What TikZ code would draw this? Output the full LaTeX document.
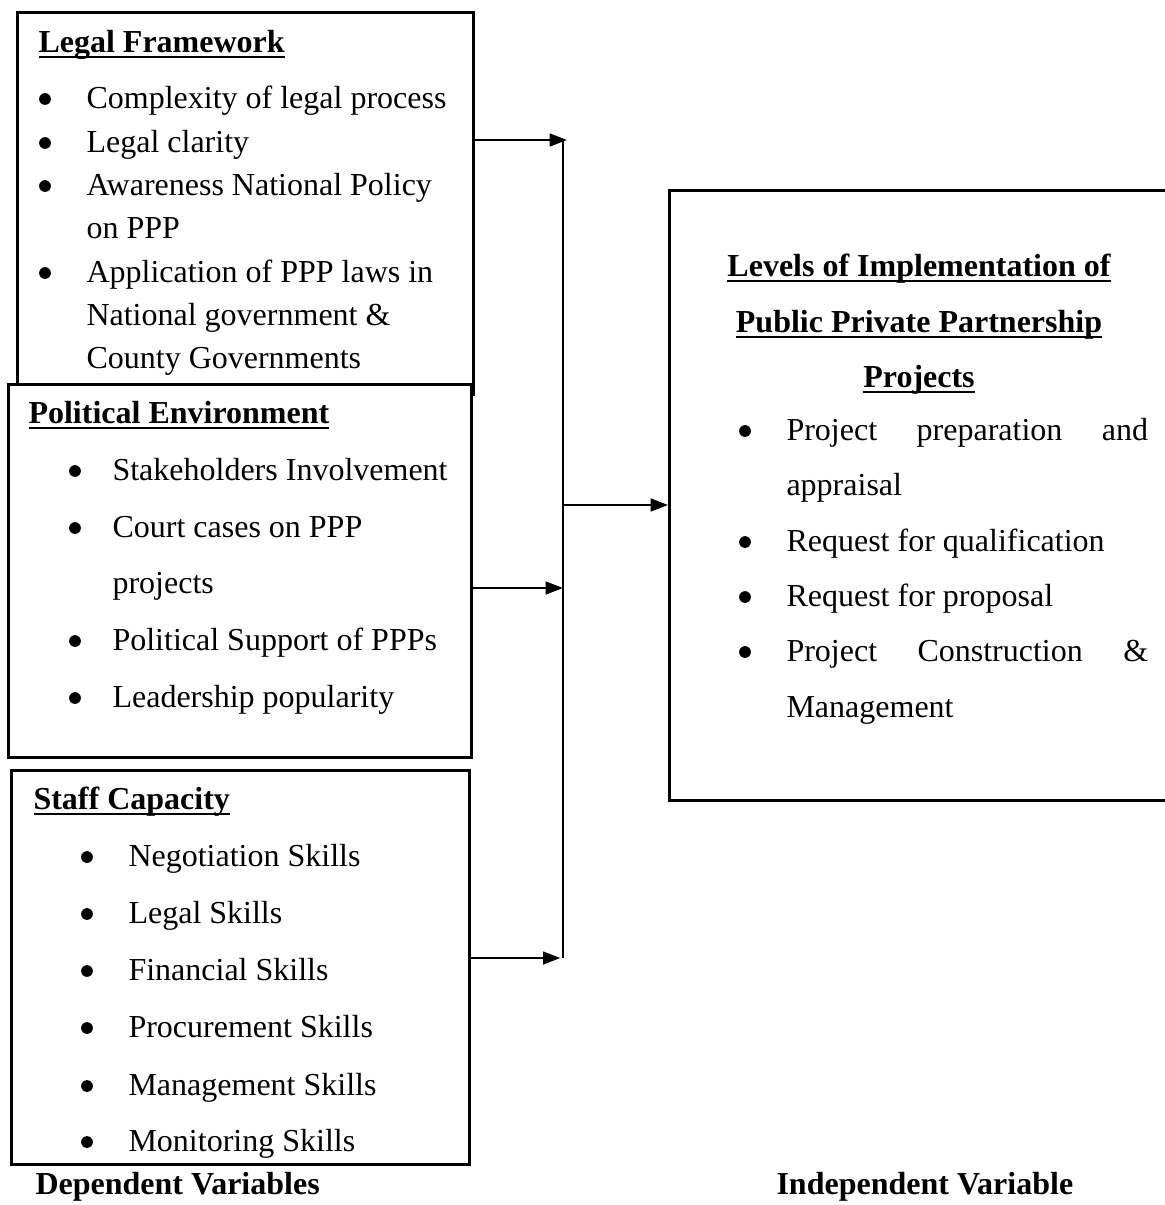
\documentclass[tikz,border=0pt]{standalone}
\usepackage{fontspec}
\setmainfont{Liberation Serif}
\usetikzlibrary{arrows.meta}

\newcommand{\ulhead}[1]{\setbox0\hbox{\bfseries #1}\rlap{\rule[-2.2pt]{\wd0}{0.8pt}}\box0}

\begin{document}
\begin{tikzpicture}[x=0.375pt, y=-0.375pt, font=\fontsize{12}{14}\selectfont,
        box/.style={draw, line width=1pt, fill=white, inner sep=0pt, anchor=north west},
        txt/.style={anchor=base west, inner sep=0pt},
        hd/.style={anchor=base, inner sep=0pt},
        dot/.style={circle, fill, inner sep=0pt, minimum size=4.4pt},
        arr/.style={-{Triangle[length=6.5pt, width=4.8pt]}, line width=0.8pt}]
        \useasboundingbox (0,0) rectangle (1165,1205);
        \clip (0,0) rectangle (1165,1205);

        % boxes
        \node[box, minimum width=171pt, minimum height=143.25pt] (legal) at (16,11) {};
        \node[box, minimum width=173.6pt, minimum height=139.9pt] (polit) at (7,383) {};
        \node[box, minimum width=171.75pt, minimum height=147.75pt] (staff) at (10,769) {};
        \node[box, minimum width=199.5pt, minimum height=228.75pt] (impl) at (668,189) {};

        % legal framework
        \node[txt] (lfhead) at (38,52) {\ulhead{Legal Framework}};
        \foreach \y/\t [count=\i] in {108/Complexity of legal process, 152/Legal clarity,
                195/Awareness National Policy, 238/on PPP, 282/Application of PPP laws in,
                325/National government \&, 368/County Governments}
            \node[txt] (lf\i) at (86,\y) {\t};
        \foreach \y [count=\i] in {108,152,195,282}
            \node[dot] (lfb\i) at (45,\y-9) {};

        % political environment
        \node[txt] (pehead) at (28,423) {\ulhead{Political Environment}};
        \foreach \y/\t [count=\i] in {480/Stakeholders Involvement, 537/Court cases on PPP,
                593/projects, 650/Political Support of PPPs, 707/Leadership popularity}
            \node[txt] (pe\i) at (112,\y) {\t};
        \foreach \y [count=\i] in {480,537,650,707}
            \node[dot] (peb\i) at (75,\y-9) {};

        % staff capacity
        \node[txt] (schead) at (33,809) {\ulhead{Staff Capacity}};
        \foreach \y/\t [count=\i] in {866/Negotiation Skills, 923/Legal Skills,
                980/Financial Skills, 1037/Procurement Skills, 1095/Management Skills,
                1151/Monitoring Skills}
        {
            \node[txt] (sc\i) at (128,\y) {\t};
            \node[dot] (scb\i) at (87,\y-9) {};
        }

        % levels of implementation
        \node[hd] (ih1) at (919,276) {\ulhead{Levels of Implementation of}};
        \node[hd] (ih2) at (919,332) {\ulhead{Public Private Partnership}};
        \node[hd] (ih3) at (919,387) {\ulhead{Projects}};
        \node[txt] (im1) at (786,440) {\makebox[135.6pt][s]{Project preparation and}};
        \node[txt] (im2) at (786,495) {appraisal};
        \node[txt] (im3) at (786,551) {Request for qualification};
        \node[txt] (im4) at (786,606) {Request for proposal};
        \node[txt] (im5) at (786,661) {\makebox[135.6pt][s]{Project Construction \&}};
        \node[txt] (im6) at (786,717) {Management};
        \foreach \y [count=\i] in {440,551,606,661}
            \node[dot] (imb\i) at (745,\y-9) {};

        % captions
        \node[txt, font=\fontsize{12}{14}\selectfont\bfseries] (dep) at (35,1194) {Dependent Variables};
        \node[txt, font=\fontsize{12}{14}\selectfont\bfseries] (indep) at (776,1194) {Independent Variable};

        % connectors
        \coordinate (bustop) at (563,140);
        \coordinate (busmid) at (563,588);
        \coordinate (busbot) at (563,958);
        \coordinate (busout) at (563,505);
        \draw[line width=0.6pt] (bustop) -- (busbot);
        \draw[arr] (legal.east |- bustop) -- ([xshift=1.5pt]bustop);
        \draw[arr] (polit.east |- busmid) -- (busmid);
        \draw[arr] (staff.east |- busbot) -- ([xshift=-1pt]busbot);
        \draw[arr] (busout) -- (impl.west |- busout);
\end{tikzpicture}
\end{document}
